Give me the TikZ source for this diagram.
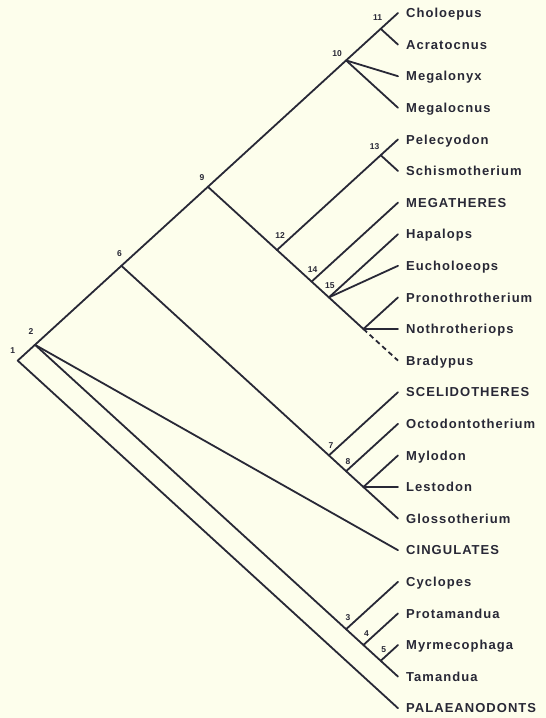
\documentclass[tikz,border=0pt]{standalone}
\usepackage{fontspec}
\setmainfont{Liberation Sans}
\newfontfamily\taxonfont{Liberation Sans}[LetterSpace=8]
\usetikzlibrary{positioning}

\definecolor{paper}{RGB}{253,254,236}
\definecolor{ink}{RGB}{40,40,54}

\tikzset{
  branch/.style={draw=ink, line width=1.8pt, line cap=round, line join=round},
  taxon/.style={anchor=west, inner xsep=8pt, inner ysep=0pt, text height=9.3pt, text depth=0pt,
                font=\taxonfont\bfseries\fontsize{13}{15}\selectfont, text=ink},
  num/.style={inner sep=1pt, font=\bfseries\fontsize{8.5}{10}\selectfont, text=ink},
}

\begin{document}
\begin{tikzpicture}[x=1pt, y=-1pt]
%%%%%%%%%%%%%%%%%%%%%%%%%%%%%%%%%%%%%%%%%%% HELP LINES
%\draw[help lines] (0,0) grid[step=50] (546,718);

%%%%%%%%%%%%%%%%%%%%%%%%%%%%%%%%%%%%%%%%%%% paper
\fill[paper] (0,0) rectangle (546,718);
\useasboundingbox (0,0) rectangle (546,718);

%%%%% taxa
\foreach \nm/\txt [count=\i from 0] in {choloepus/Choloepus, acratocnus/Acratocnus,
    megalonyx/Megalonyx, megalocnus/Megalocnus, pelecyodon/Pelecyodon,
    schismotherium/Schismotherium, megatheres/MEGATHERES, hapalops/Hapalops,
    eucholoeops/Eucholoeops, pronothrotherium/Pronothrotherium,
    nothrotheriops/Nothrotheriops, bradypus/Bradypus, scelidotheres/SCELIDOTHERES,
    octodontotherium/Octodontotherium, mylodon/Mylodon, lestodon/Lestodon,
    glossotherium/Glossotherium, cingulates/CINGULATES, cyclopes/Cyclopes,
    protamandua/Protamandua, myrmecophaga/Myrmecophaga, tamandua/Tamandua,
    palaeanodonts/PALAEANODONTS}
  \node[taxon] (\nm) at (398,{13+31.6*\i}) {\txt};

%%%%% branching points
\coordinate (n1) at (17.7,360.6);
\coordinate (n2) at (35,344.8);
\coordinate (n3) at (346.1,629.2);
\coordinate (n4) at (363.4,645);
\coordinate (n5) at (380.7,660.8);
\coordinate (n6) at (121.4,265.8);
\coordinate (n7) at (328.9,455.4);
\coordinate (n8) at (346.1,471.2);
\coordinate (n8b) at (363.4,487);
\coordinate (n9) at (207.9,186.8);
\coordinate (n10) at (346.1,60.4);
\coordinate (n11) at (380.7,28.8);
\coordinate (n12) at (277,250);
\coordinate (n13) at (380.7,155.2);
\coordinate (n14) at (311.6,281.6);
\coordinate (n15) at (328.9,297.4);
\coordinate (n16) at (363.4,329);

%%%%% node numbers
\node[num, above=6pt of n1, xshift=-5pt] (l1) {1};
\node[num, above=9pt of n2, xshift=-4pt] (l2) {2};
\node[num, above=7pt of n3, xshift=2pt] (l3) {3};
\node[num, above=7pt of n4, xshift=3pt] (l4) {4};
\node[num, above=7pt of n5, xshift=3pt] (l5) {5};
\node[num, above=8pt of n6, xshift=-2pt] (l6) {6};
\node[num, above=6pt of n7, xshift=2pt] (l7) {7};
\node[num, above=5pt of n8, xshift=2pt] (l8) {8};
\node[num, above=5pt of n9, xshift=-6pt] (l9) {9};
\node[num, above=3pt of n10, xshift=-9pt] (l10) {10};
\node[num, above=7pt of n11, xshift=-3pt] (l11) {11};
\node[num, above=10pt of n12, xshift=3pt] (l12) {12};
\node[num, above=4pt of n13, xshift=-6pt] (l13) {13};
\node[num, above=8pt of n14, xshift=1pt] (l14) {14};
\node[num, above=8pt of n15, xshift=1pt] (l15) {15};

%%%%% branches
\draw[branch] (palaeanodonts.west) -- (n1) -- (n2) -- (n6) -- (n9) -- (n10) -- (n11) -- (choloepus.west);
\draw[branch] (n2) -- (cingulates.west);
\draw[branch] (n2) -- (n3) -- (n4) -- (n5) -- (tamandua.west);
\draw[branch] (n3) -- (cyclopes.west);
\draw[branch] (n4) -- (protamandua.west);
\draw[branch] (n5) -- (myrmecophaga.west);
\draw[branch] (n6) -- (n7) -- (n8) -- (n8b) -- (glossotherium.west);
\draw[branch] (n7) -- (scelidotheres.west);
\draw[branch] (n8) -- (octodontotherium.west);
\draw[branch] (n8b) -- (mylodon.west);
\draw[branch] (n8b) -- (lestodon.west);
\draw[branch] (n9) -- (n12) -- (n14) -- (n15) -- (n16);
\draw[branch, line cap=butt, dash pattern=on 5pt off 3.5pt] (n16) -- (bradypus.west);
\draw[branch] (n12) -- (n13) -- (pelecyodon.west);
\draw[branch] (n13) -- (schismotherium.west);
\draw[branch] (n14) -- (megatheres.west);
\draw[branch] (n15) -- (hapalops.west);
\draw[branch] (n15) -- (eucholoeops.west);
\draw[branch] (n16) -- (pronothrotherium.west);
\draw[branch] (n16) -- (nothrotheriops.west);
\draw[branch] (n11) -- (acratocnus.west);
\draw[branch] (n10) -- (megalonyx.west);
\draw[branch] (n10) -- (megalocnus.west);
\end{tikzpicture}
\end{document}
